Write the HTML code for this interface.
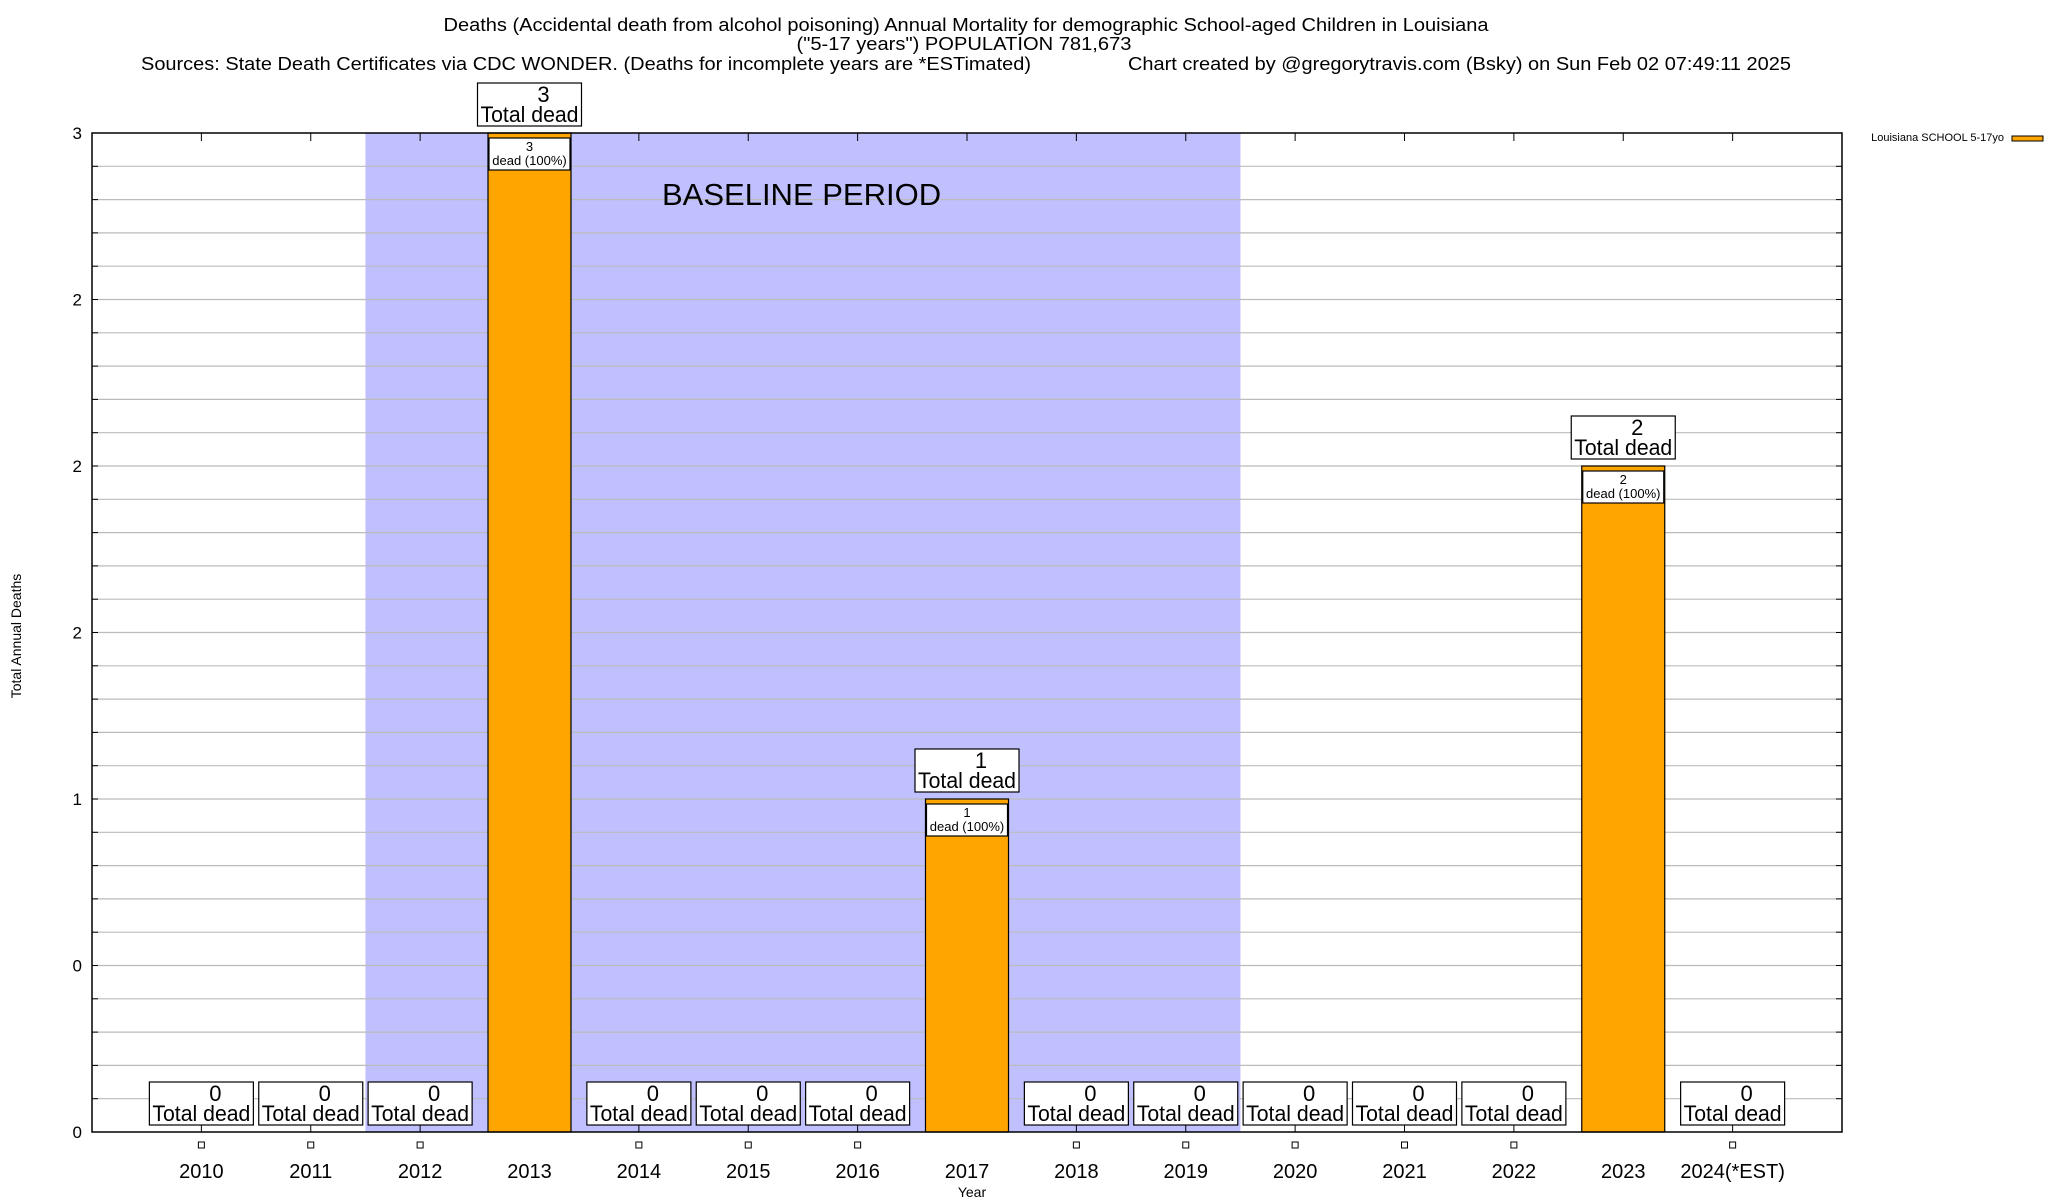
<!DOCTYPE html>
<html><head><meta charset="utf-8">
<style>
html,body{margin:0;padding:0;background:#fff;}
svg{display:block;font-family:"Liberation Sans",Arial,sans-serif;}
</style></head>
<body>
<svg id="chart" width="2048" height="1200" viewBox="0 0 2048 1200" xmlns="http://www.w3.org/2000/svg">
<text x="966" y="31" font-size="18" text-anchor="middle" textLength="1045" lengthAdjust="spacingAndGlyphs">Deaths (Accidental death from alcohol poisoning) Annual Mortality for demographic School-aged Children in Louisiana</text>
<text x="964" y="50" font-size="18" text-anchor="middle" textLength="335" lengthAdjust="spacingAndGlyphs">("5-17 years") POPULATION 781,673</text>
<text x="141" y="70" font-size="18" textLength="890" lengthAdjust="spacingAndGlyphs">Sources: State Death Certificates via CDC WONDER. (Deaths for incomplete years are *ESTimated)</text>
<text x="1128" y="70" font-size="18" textLength="663" lengthAdjust="spacingAndGlyphs">Chart created by @gregorytravis.com (Bsky) on Sun Feb 02 07:49:11 2025</text>
<g id="plot"></g>
<text x="972" y="1197" font-size="14" text-anchor="middle">Year</text>
<text x="0" y="0" font-size="14" text-anchor="middle" transform="translate(21,636) rotate(-90)">Total Annual Deaths</text>
<text x="2004" y="141" font-size="11" text-anchor="end">Louisiana SCHOOL 5-17yo</text>
<rect x="2012" y="136" width="31" height="5" fill="#ffa500" stroke="#000" stroke-width="1"/>
</svg>
<script>
const categories = ["2010","2011","2012","2013","2014","2015","2016","2017","2018","2019","2020","2021","2022","2023","2024(*EST)"];
const deaths = [0,0,0,3,0,0,0,1,0,0,0,0,0,2,0];
const yTicks = [0,0.5,1,1.5,2,2.5,3];
const yTickLabels = ["0","0","1","2","2","2","3"];
const baselineStart = 2011.5;
const baselineEnd = 2019.5;

const NS = "http://www.w3.org/2000/svg";
const L = 92, R = 1842, T = 133, B = 1132;
const yMax = 3;
const xs = i => L + (i + 1) * (R - L) / 16;
const ys = v => B - v * (B - T) / yMax;
const g = document.getElementById('plot');
function mk(tag, attrs, parent) {
  const e = document.createElementNS(NS, tag);
  for (const k in attrs) e.setAttribute(k, attrs[k]);
  (parent || g).appendChild(e);
  return e;
}
const bx0 = xs(baselineStart - 2010), bx1 = xs(baselineEnd - 2010);
const band = mk('rect', {x: bx0, y: T, width: bx1 - bx0, height: B - T, fill: '#c0c0ff'});


for (let k = 1; k < 30; k++) {
  const y = ys(k / 10);
  const gl = mk('line', {x1: L, x2: R, y1: y, y2: y, stroke: '#bbbbbb', 'stroke-width': 1.2});
  
  
  mk('line', {x1: L, x2: L + 6, y1: y, y2: y, stroke: '#000', 'stroke-width': 1});
  mk('line', {x1: R - 6, x2: R, y1: y, y2: y, stroke: '#000', 'stroke-width': 1});
}
const bt = mk('text', {x: 662, y: 205, 'font-size': 31});
bt.textContent = 'BASELINE PERIOD';


yTicks.forEach((v, i) => {
  const t = mk('text', {x: 82, y: ys(v) + 6, 'font-size': 17, 'text-anchor': 'end'});
  t.textContent = yTickLabels[i];
  
  
});
const bw = 83;
categories.forEach((c, i) => {
  const cx = xs(i);
  mk('line', {x1: cx, x2: cx, y1: B, y2: B - 8, stroke: '#000', 'stroke-width': 1});
  mk('line', {x1: cx, x2: cx, y1: T, y2: T + 8, stroke: '#000', 'stroke-width': 1});
  const v = deaths[i];
  let top = B;
  if (v > 0) {
    top = ys(v);
    const bar = mk('rect', {x: cx - bw / 2, y: top, width: bw, height: B - top, fill: '#ffa500', stroke: '#000', 'stroke-width': 1.2});
    
    
    const ib = mk('rect', {x: cx - bw / 2 + 1, y: top + 5, width: bw - 2, height: 32, fill: '#fff', stroke: '#000', 'stroke-width': 1.2});
    
    
    const t1 = mk('text', {x: cx, y: top + 18, 'font-size': 13, 'text-anchor': 'middle'});
    t1.textContent = String(v);
    
    
    const t2 = mk('text', {x: cx, y: top + 32, 'font-size': 13, 'text-anchor': 'middle'});
    t2.textContent = 'dead (100%)';
    
    
  }
  const boxBottom = top - 7;
  const lb = mk('rect', {x: cx - 52, y: boxBottom - 43, width: 104, height: 43, fill: '#fff', stroke: '#000', 'stroke-width': 1.2});
  
  
  const n = mk('text', {x: cx + 14, y: boxBottom - 24, 'font-size': 22, 'text-anchor': 'middle'});
  n.textContent = String(v);
  
  
  const td = mk('text', {x: cx, y: boxBottom - 4, 'font-size': 22, 'text-anchor': 'middle', textLength: 98, lengthAdjust: 'spacingAndGlyphs'});
  td.textContent = 'Total dead';
  
  
  if (v === 0) {
    const sq = mk('rect', {x: cx - 3, y: 1142, width: 6, height: 6, fill: '#fff', stroke: '#000', 'stroke-width': 1});
    
    
  }
  const xl = mk('text', {x: cx, y: 1178, 'font-size': 20, 'text-anchor': 'middle'});
  xl.textContent = c;
  
  
});
const frame = mk('rect', {x: L, y: T, width: R - L, height: B - T, fill: 'none', stroke: '#000', 'stroke-width': 1.5});


</script>
</body></html>
